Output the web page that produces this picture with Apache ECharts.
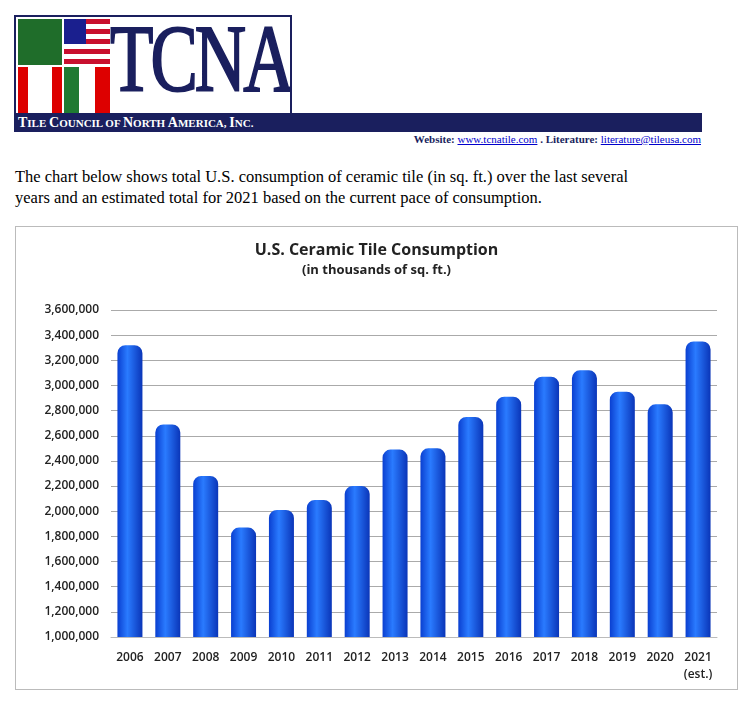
<!DOCTYPE html><html><head><meta charset="utf-8">
<script src="https://cdn.jsdelivr.net/npm/echarts@6/dist/echarts.min.js"></script>
<style>
body{margin:0;background:#fff;width:753px;height:713px;position:relative;font-family:"Liberation Serif",serif;overflow:hidden}
#logo{position:absolute;left:14px;top:15px;width:278px;height:100px;border:2px solid #1a1f5e;box-sizing:border-box;background:#fff;overflow:hidden}
#flags{position:absolute;left:2px;top:2px;width:92px;height:94px}
#tcna{position:absolute;left:94px;top:-14px;font-size:96px;font-family:"Liberation Serif",serif;color:#1a1f5e;letter-spacing:-4px;transform:scaleX(0.74);transform-origin:left;-webkit-text-stroke:2px #1a1f5e}
#bar{position:absolute;left:14px;top:113px;width:688px;height:19px;background:#1a1f5e;color:#fff;font-size:14px;font-weight:bold;line-height:19px;padding-left:4px;box-sizing:border-box}
#web{position:absolute;right:52px;top:133px;font-size:11px;font-weight:bold;color:#1a1f5e}
#web a{color:#00c;font-weight:normal;text-decoration:underline}
#txt{position:absolute;left:15px;top:166px;width:645px;font-size:16.5px;line-height:21px;color:#000}
#box{position:absolute;left:15px;top:226px;width:723px;height:464px;border:1px solid #bbb;box-sizing:border-box}
#c{width:721px;height:462px}
</style></head><body>
<div id="logo"><div id="flags">
<div style="position:absolute;left:0;top:0;width:44px;height:46px;background:#1f6d2a"></div>
<div style="position:absolute;left:46px;top:0;width:46px;height:46px;background:repeating-linear-gradient(#c8102e 0 5px,#fff 5px 10px)"></div>
<div style="position:absolute;left:46px;top:0;width:22px;height:25px;background:#1a1f8e"></div>
<div style="position:absolute;left:0;top:48px;width:44px;height:46px;background:linear-gradient(90deg,#d00 0 10px,#fff 10px 34px,#d00 34px)"></div>
<div style="position:absolute;left:46px;top:48px;width:46px;height:46px;background:linear-gradient(90deg,#1f7a32 0 15px,#fff 15px 31px,#d00 31px)"></div>
</div><div id="tcna">TCNA</div></div>
<div id="bar">T<span style="font-size:11px">ILE </span>C<span style="font-size:11px">OUNCIL OF </span>N<span style="font-size:11px">ORTH </span>A<span style="font-size:11px">MERICA, </span>I<span style="font-size:11px">NC.</span></div>
<div id="web">Website: <a>www.tcnatile.com</a> . Literature: <a>literature@tileusa.com</a></div>
<div id="txt">The chart below shows total U.S. consumption of ceramic tile (in sq. ft.) over the last several years and an estimated total for 2021 based on the current pace of consumption.</div>
<div id="box"><div id="c"></div></div>
<script>
const categories=['2006','2007','2008','2009','2010','2011','2012','2013','2014','2015','2016','2017','2018','2019','2020','2021\n(est.)'];
const values=[3320000,2690000,2280000,1870000,2010000,2090000,2200000,2490000,2500000,2750000,2910000,3070000,3120000,2950000,2850000,3350000];
const chart=echarts.init(document.getElementById('c'));
chart.setOption({
 title:{text:'U.S. Ceramic Tile Consumption',subtext:'(in thousands of sq. ft.)',left:'center',top:10,itemGap:6,
  textStyle:{fontFamily:'Open Sans',fontWeight:'bold',fontSize:16,color:'#222'},
  subtextStyle:{fontFamily:'Open Sans',fontWeight:'bold',fontSize:13,color:'#222'}},
 grid:{left:95,right:20,top:83,bottom:52},
 xAxis:{type:'category',data:categories,axisTick:{show:false},axisLine:{lineStyle:{color:'#bbb'}},
  axisLabel:{fontFamily:'Open Sans',fontSize:12,fontWeight:600,color:'#222',margin:12,interval:0,align:'center',lineHeight:17}},
 yAxis:{type:'value',min:1000000,max:3600000,interval:200000,
  axisLabel:{fontFamily:'Open Sans',fontSize:12,fontWeight:600,color:'#222',margin:12,formatter:v=>v.toLocaleString('en-US')},
  splitLine:{lineStyle:{color:'#aaa'}}},
 series:[{type:'bar',data:values,barWidth:'66%',
  itemStyle:{borderRadius:[8,8,0,0],color:new echarts.graphic.LinearGradient(0,0,1,0,[{offset:0,color:'#0a3fd0'},{offset:0.4,color:'#2a7bff'},{offset:1,color:'#0a35b8'}])}}]
});
</script></body></html>
